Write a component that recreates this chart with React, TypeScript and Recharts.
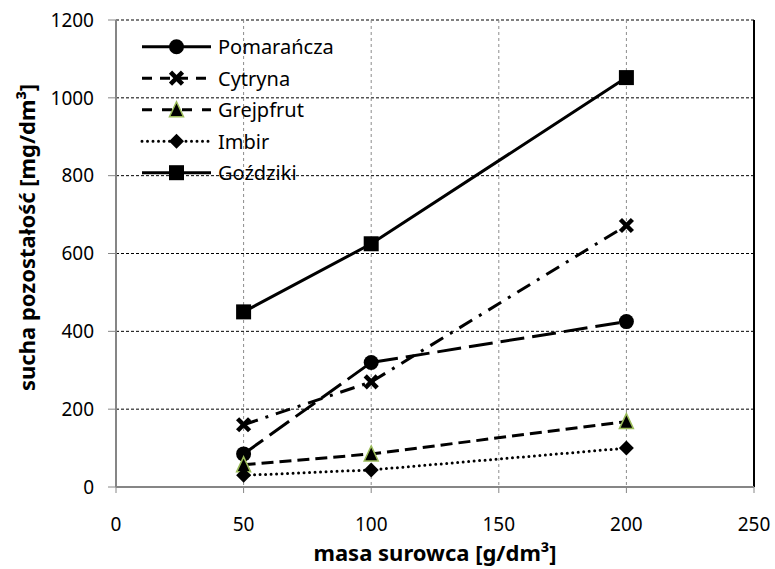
import React from "react";
import {
  LineChart,
  Line,
  XAxis,
  YAxis,
  CartesianGrid,
  ReferenceLine,
  Legend,
} from "recharts";

const masa = [50, 100, 200];
const pomarancza = [85, 320, 425];
const cytryna = [160, 270, 672];
const grejpfrut = [57, 85, 168];
const imbir = [30, 44, 100];
const gozdziki = [450, 625, 1052];

const xTicks = [0, 50, 100, 150, 200, 250];
const yTicks = [0, 200, 400, 600, 800, 1000, 1200];

const data = masa.map((m, i) => ({
  masa: m,
  pomarancza: pomarancza[i],
  cytryna: cytryna[i],
  grejpfrut: grejpfrut[i],
  imbir: imbir[i],
  gozdziki: gozdziki[i],
}));

const FONT = "'Noto Sans', sans-serif";

const marker = (kind: string, cx: number, cy: number, key?: any) => {
  switch (kind) {
    case "circle":
      return <circle key={key} cx={cx} cy={cy} r={7.5} fill="#000" />;
    case "cross":
      return (
        <g key={key}>
          <line x1={cx - 6} y1={cy - 6} x2={cx + 6} y2={cy + 6} stroke="#000" strokeWidth={4.5} />
          <line x1={cx - 6} y1={cy + 6} x2={cx + 6} y2={cy - 6} stroke="#000" strokeWidth={4.5} />
        </g>
      );
    case "triangle":
      return (
        <polygon
          key={key}
          points={`${cx},${cy - 8} ${cx + 7},${cy + 7} ${cx - 7},${cy + 7}`}
          fill="#000"
          stroke="#9BBB59"
          strokeWidth={1.5}
        />
      );
    case "diamond":
      return (
        <polygon
          key={key}
          points={`${cx},${cy - 7.5} ${cx + 7.5},${cy} ${cx},${cy + 7.5} ${cx - 7.5},${cy}`}
          fill="#000"
        />
      );
    default:
      return <rect key={key} x={cx - 7.5} y={cy - 7.5} width={15} height={15} fill="#000" />;
  }
};

const series = [
  { key: "pomarancza", name: "Pomarańcza", dash: "24 8", legendDash: undefined, kind: "circle" },
  { key: "cytryna", name: "Cytryna", dash: "15 8 3 8", legendDash: "10 8", kind: "cross" },
  { key: "grejpfrut", name: "Grejpfrut", dash: "12 6", legendDash: "10 10", kind: "triangle" },
  { key: "imbir", name: "Imbir", dash: "0 5.5", legendDash: "0 5.5", kind: "diamond" },
  { key: "gozdziki", name: "Goździki", dash: undefined, legendDash: undefined, kind: "square" },
];

const LegendBox = () => (
  <svg width={230} height={170} style={{ display: "block" }}>
    {series.map((s, i) => {
      const y = 26.7 + i * 31.5;
      return (
        <g key={s.key}>
          <line
            x1={12}
            x2={81}
            y1={y}
            y2={y}
            stroke="#000"
            strokeWidth={3}
            strokeDasharray={s.legendDash}
            strokeLinecap={s.kind === "diamond" ? "round" : "butt"}
          />
          {marker(s.kind, 46.5, y)}
          <text x={88} y={y} dominantBaseline="central" fontSize={20} fontFamily={FONT} fill="#000">
            {s.name}
          </text>
        </g>
      );
    })}
  </svg>
);

const YTitle = (props: any) => {
  const { viewBox } = props;
  const x = viewBox.x + 26;
  const y = viewBox.y + viewBox.height / 2 - 16;
  return (
    <text
      x={x}
      y={y}
      transform={`rotate(-90, ${x}, ${y})`}
      textAnchor="middle"
      dominantBaseline="central"
      fontSize={22}
      fontWeight="bold"
      fontFamily={FONT}
      fill="#000"
    >
      sucha pozostałość&#160;[mg/dm³]
    </text>
  );
};

const XTitle = (props: any) => {
  const { viewBox } = props;
  return (
    <text
      x={viewBox.x + viewBox.width / 2}
      y={viewBox.y + 65}
      textAnchor="middle"
      dominantBaseline="central"
      fontSize={22}
      fontWeight="bold"
      fontFamily={FONT}
      fill="#000"
    >
      masa surowca [g/dm³]
    </text>
  );
};

export default function App() {
  return (
    <div style={{ position: "absolute", left: 0, top: 0, width: 775, height: 569, background: "#fff" }}>
      <LineChart
        width={775}
        height={569}
        data={data}
        margin={{ top: 20, right: 21, bottom: 0, left: 0 }}
      >
        <CartesianGrid
          horizontal={true}
          vertical={false}
          stroke="#000"
          strokeDasharray="3 2"
          strokeWidth={1}
        />
        <CartesianGrid
          horizontal={false}
          vertical={true}
          stroke="#8c8c8c"
          strokeDasharray="3 3"
          strokeWidth={1}
        />
        <XAxis
          dataKey="masa"
          type="number"
          domain={[0, 250]}
          ticks={xTicks}
          height={82}
          axisLine={{ stroke: "#868686", strokeWidth: 2 }}
          tickLine={{ stroke: "#868686" }}
          tickSize={6}
          tickMargin={25}
          tick={{ fill: "#000", fontSize: 19, fontFamily: FONT }}
          label={<XTitle />}
        />
        <YAxis
          type="number"
          domain={[0, 1200]}
          ticks={yTicks}
          width={116}
          axisLine={{ stroke: "#868686", strokeWidth: 2 }}
          tickLine={{ stroke: "#868686" }}
          tickSize={8}
          tickMargin={14}
          tick={{ fill: "#000", fontSize: 19, fontFamily: FONT }}
          label={<YTitle />}
        />
        <ReferenceLine x={250} stroke="#000" strokeWidth={2} />
        {series.map((s) => (
          <Line
            key={s.key}
            dataKey={s.key}
            name={s.name}
            type="linear"
            stroke="#000"
            strokeWidth={3}
            strokeDasharray={s.dash}
            strokeLinecap={s.kind === "diamond" ? "round" : "butt"}
            isAnimationActive={false}
            activeDot={false}
            dot={(p: any) => marker(s.kind, p.cx, p.cy, `${s.key}-${p.index}`)}
          />
        ))}
        <Legend
          layout="vertical"
          align="center"
          verticalAlign="middle"
          content={<LegendBox />}
          wrapperStyle={{ position: "absolute", left: 130, top: 20, width: 230, height: 170 }}
        />
      </LineChart>
    </div>
  );
}
